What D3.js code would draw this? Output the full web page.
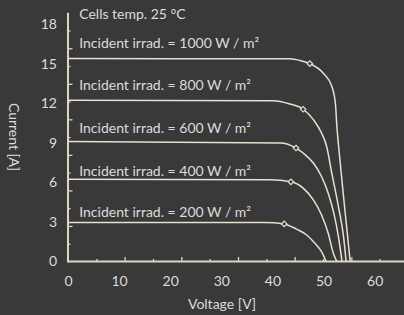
<!DOCTYPE html>
<html>
<head>
<meta charset="utf-8">
<script src="https://cdn.jsdelivr.net/npm/d3@7"></script>
<style>
  html, body { margin: 0; padding: 0; background: #393939; }
  svg { display: block; font-family: Lato, "Open Sans", sans-serif; }
</style>
</head>
<body>
<script>
// data

var irradiance = [1000, 800, 600, 400, 200];

var volt1000 = [0, 43.4, 45.4, 47.3, 49.9, 51.6, 52.3, 52.6, 53.0, 54.1, 55.2];
var amps1000 = [15.38, 15.36, 15.23, 15.0, 14.29, 13.28, 12.01, 10.24, 8.47, 4.16, 0];

var volt800 = [0, 40.1, 43.4, 46.0, 48.0, 49.6, 50.6, 51.6, 52.9, 53.9, 54.4];
var amps800 = [12.23, 12.19, 11.94, 11.54, 10.75, 9.74, 8.72, 6.7, 4.16, 1.88, 0];

var volt600 = [0, 41.5, 44.6, 46.0, 48.0, 49.6, 50.9, 52.0, 52.9, 53.6];
var amps600 = [9.1, 8.98, 8.6, 8.22, 7.46, 6.44, 5.18, 3.66, 1.88, 0];

var volt400 = [0, 39.5, 43.6, 46.0, 48.0, 49.6, 50.9, 51.9, 52.6];
var amps400 = [6.24, 6.19, 6.04, 5.56, 4.67, 3.53, 2.14, 0.62, 0];

var volt200 = [0, 38.5, 42.3, 44.7, 46.7, 48.3, 49.6, 50.5];
var amps200 = [2.96, 2.95, 2.85, 2.45, 2.01, 1.38, 0.74, 0];

// maximum power points (diamonds)
var mppVolt = [47.3, 46.0, 44.6, 43.6, 42.3];
var mppAmps = [15.0, 11.54, 8.6, 6.04, 2.85];

// where the "Incident irrad." labels sit (current units)
var labelAmps = [16.2, 13.0, 9.75, 6.5, 3.4];

var xTickLabels = [0, 10, 20, 30, 40, 50, 60];
var yTickLabels = [0, 3, 6, 9, 12, 15, 18];

var curves = [
  {volt: volt1000, amps: amps1000},
  {volt: volt800, amps: amps800},
  {volt: volt600, amps: amps600},
  {volt: volt400, amps: amps400},
  {volt: volt200, amps: amps200}
];

// Main JS

var W = 404, H = 315;
var ink = '#e9e0cf', axisInk = '#ddd4c3', textInk = '#dcdcdc';

var svg = d3.select('body').append('svg')
  .attr('width', W)
  .attr('height', H);

svg.append('rect').attr('width', W).attr('height', H).attr('fill', '#393939');

var x0 = 68, y0 = 261.5;

var x = d3.scaleLinear().domain([0, 60]).range([x0, x0 + 5.112 * 60]);
var y = d3.scaleLinear().domain([0, 18]).range([y0, 24]);

// the small tick marks run on their own grid
var xTick = d3.scaleLinear().domain([0, 12]).range([x0, x0 + 340]);
var yTick = d3.scaleLinear().domain([0, 14]).range([y0, y0 - 248.8]);

// tick marks, x
var gxt = svg.append('g')
  .attr('transform', 'translate(0,' + y0 + ')')
  .call(d3.axisBottom(xTick).tickValues(d3.range(1, 12)).tickSize(0).tickFormat(''));
gxt.select('.domain').remove();
gxt.selectAll('.tick line')
  .attr('y2', (d) => d % 2 ? -2.5 : -4.5)
  .attr('stroke', axisInk)
  .attr('stroke-width', 1.3);

// tick marks, y
var gyt = svg.append('g')
  .attr('transform', 'translate(' + x0 + ',0)')
  .call(d3.axisLeft(yTick).tickValues(d3.range(1, 14)).tickSize(0).tickFormat(''));
gyt.select('.domain').remove();
gyt.selectAll('.tick line')
  .attr('x2', (d) => d % 2 ? 2.5 : 4.5)
  .attr('stroke', axisInk)
  .attr('stroke-width', 1.3);

// tick labels
var gx = svg.append('g')
  .attr('transform', 'translate(0,' + y0 + ')')
  .call(d3.axisBottom(x).tickValues(xTickLabels).tickSize(0).tickPadding(15));
gx.select('.domain').remove();
gx.selectAll('text')
  .attr('fill', textInk)
  .style('font-size', '14px')
  .style('font-family', 'Lato, sans-serif');

var gy = svg.append('g')
  .attr('transform', 'translate(' + x0 + ',0)')
  .call(d3.axisLeft(y).tickValues(yTickLabels).tickSize(0).tickPadding(11));
gy.select('.domain').remove();
gy.selectAll('text')
  .attr('fill', textInk)
  .style('font-size', '14px')
  .style('font-family', 'Lato, sans-serif');

// axis lines
svg.append('line')
  .attr('x1', x0).attr('x2', W)
  .attr('y1', y0).attr('y2', y0)
  .attr('stroke', axisInk).attr('stroke-width', 2);
svg.append('line')
  .attr('x1', x0).attr('x2', x0)
  .attr('y1', yTick(14)).attr('y2', y0 + 1)
  .attr('stroke', axisInk).attr('stroke-width', 2);

// the I-V curves
var line = d3.line()
  .x((d) => x(d[0]))
  .y((d) => y(d[1]))
  .curve(d3.curveMonotoneX);

svg.selectAll('.curve')
  .data(curves)
  .enter()
  .append('path')
    .attr('class', 'curve')
    .attr('d', (c) => line(c.volt.map((v, i) => [v, c.amps[i]])))
    .attr('fill', 'none')
    .attr('stroke', ink)
    .attr('stroke-width', 1.5);

// maximum power markers
svg.selectAll('.mpp')
  .data(mppVolt)
  .enter()
  .append('path')
    .attr('class', 'mpp')
    .attr('d', d3.symbol().type(d3.symbolSquare).size(15))
    .attr('transform', (d, i) => 'translate(' + x(d) + ',' + y(mppAmps[i]) + ') rotate(45)')
    .attr('fill', '#393939')
    .attr('stroke', ink)
    .attr('stroke-width', 1.2);

// annotations
svg.append('text')
  .attr('x', x(2.2)).attr('y', 19)
  .attr('fill', textInk)
  .style('font-size', '14px')
  .text('Cells temp. 25 °C');

svg.selectAll('.irr')
  .data(irradiance)
  .enter()
  .append('text')
    .attr('class', 'irr')
    .attr('x', x(2.2))
    .attr('y', (d, i) => y(labelAmps[i]))
    .attr('fill', textInk)
    .style('font-size', '14px')
    .text((d) => 'Incident irrad. = ' + d + ' W / m²');

// axis titles
svg.append('text')
  .attr('x', 222).attr('y', 309)
  .attr('text-anchor', 'middle')
  .attr('fill', textInk)
  .style('font-size', '14px')
  .text('Voltage [V]');

svg.append('text')
  .attr('transform', 'translate(9,137) rotate(90)')
  .attr('text-anchor', 'middle')
  .attr('fill', textInk)
  .style('font-size', '14px')
  .text('Current [A]');
</script>
</body>
</html>
